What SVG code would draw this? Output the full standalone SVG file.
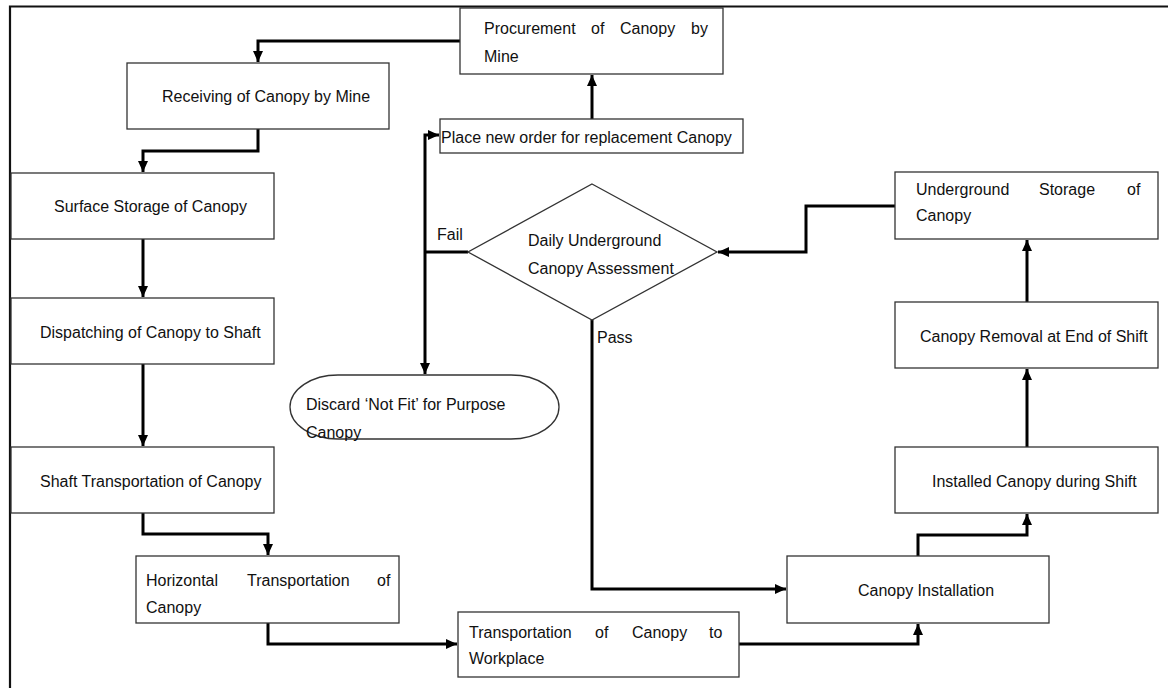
<svg xmlns="http://www.w3.org/2000/svg" width="1168" height="688" viewBox="0 0 1168 688">
<style>
.box{fill:#fff;stroke:#333;stroke-width:1.3}
.t{font-family:"Liberation Sans",Arial,sans-serif;font-size:16px;fill:#111}
.c{fill:none;stroke:#000;stroke-width:3}
.frame{fill:none;stroke:#111;stroke-width:2.2}
</style>
<defs>
<marker id="ah" markerUnits="userSpaceOnUse" markerWidth="12" markerHeight="12" viewBox="0 0 12 12" refX="11" refY="6" orient="auto">
<path d="M0,1 L11,6 L0,11 Z" fill="#000"/>
</marker>
</defs>
<rect width="1168" height="688" fill="#fff"/>
<path class="frame" d="M10,688 V6.5 H1168"/>
<g id="connectors">
<path class="c" d="M460,41 H258 V62" marker-end="url(#ah)"/>
<path class="c" d="M258,129 V151 H143 V172" marker-end="url(#ah)"/>
<path class="c" d="M143,239 V297" marker-end="url(#ah)"/>
<path class="c" d="M143,364 V446" marker-end="url(#ah)"/>
<path class="c" d="M143,513 V534 H268 V555" marker-end="url(#ah)"/>
<path class="c" d="M268,623 V644 H457" marker-end="url(#ah)"/>
<path class="c" d="M739,644 H918 V624" marker-end="url(#ah)"/>
<path class="c" d="M918,556 V535 H1027 V514" marker-end="url(#ah)"/>
<path class="c" d="M1027,447 V369" marker-end="url(#ah)"/>
<path class="c" d="M1027,302 V240" marker-end="url(#ah)"/>
<path class="c" d="M895,206 H806 V252 H718" marker-end="url(#ah)"/>
<path class="c" d="M592,320 V589 H786" marker-end="url(#ah)"/>
<path class="c" d="M592,119 V75" marker-end="url(#ah)"/>
<path class="c" d="M468,252 H425"/>
<path class="c" d="M425,252 V135 H439" marker-end="url(#ah)"/>
<path class="c" d="M425,252 V374" marker-end="url(#ah)"/>
<text class="t" x="437" y="240">Fail</text>
<text class="t" x="597" y="343">Pass</text>
</g>
<g id="procurement">
<rect class="box" x="460" y="8" width="263" height="66"/>
<text class="t" y="34"><tspan x="484">Procurement</tspan><tspan x="591">of</tspan><tspan x="620">Canopy</tspan><tspan x="691">by</tspan></text>
<text class="t" x="484" y="62">Mine</text>
</g>
<g id="receiving">
<rect class="box" x="127" y="63" width="262" height="66"/>
<text class="t" x="162" y="102">Receiving of Canopy by Mine</text>
</g>
<g id="surface">
<rect class="box" x="11" y="173" width="263" height="66"/>
<text class="t" x="54" y="212">Surface Storage of Canopy</text>
</g>
<g id="dispatching">
<rect class="box" x="11" y="298" width="263" height="66"/>
<text class="t" x="40" y="338">Dispatching of Canopy to Shaft</text>
</g>
<g id="shaft">
<rect class="box" x="11" y="447" width="263" height="66"/>
<text class="t" x="40" y="487">Shaft Transportation of Canopy</text>
</g>
<g id="horizontal">
<rect class="box" x="136" y="556" width="263" height="67"/>
<text class="t" y="586"><tspan x="146">Horizontal</tspan><tspan x="247">Transportation</tspan><tspan x="377">of</tspan></text>
<text class="t" x="146" y="613">Canopy</text>
</g>
<g id="transportation">
<rect class="box" x="458" y="612" width="281" height="65"/>
<text class="t" y="638"><tspan x="469">Transportation</tspan><tspan x="595">of</tspan><tspan x="632">Canopy</tspan><tspan x="709">to</tspan></text>
<text class="t" x="469" y="664">Workplace</text>
</g>
<g id="installation">
<rect class="box" x="787" y="556" width="262" height="67"/>
<text class="t" x="858" y="596">Canopy Installation</text>
</g>
<g id="installed">
<rect class="box" x="895" y="447" width="263" height="66"/>
<text class="t" x="932" y="487">Installed Canopy during Shift</text>
</g>
<g id="removal">
<rect class="box" x="895" y="302" width="263" height="66"/>
<text class="t" x="920" y="342">Canopy Removal at End of Shift</text>
</g>
<g id="underground">
<rect class="box" x="895" y="172" width="263" height="67"/>
<text class="t" y="195"><tspan x="916">Underground</tspan><tspan x="1039">Storage</tspan><tspan x="1127">of</tspan></text>
<text class="t" x="916" y="221">Canopy</text>
</g>
<g id="assessment">
<polygon class="box" points="592,184 717,252 592,320 468,252"/>
<text class="t" x="528" y="246">Daily Underground</text>
<text class="t" x="528" y="274">Canopy Assessment</text>
</g>
<g id="placeorder">
<rect class="box" x="440" y="119" width="303" height="34"/>
<text class="t" x="441" y="143">Place new order for replacement Canopy</text>
</g>
<g id="discard">
<rect class="box" x="290" y="375" width="269" height="64" rx="48" ry="32"/>
<text class="t" x="306" y="410">Discard ‘Not Fit’ for Purpose</text>
<text class="t" x="306" y="438">Canopy</text>
</g>
</svg>
